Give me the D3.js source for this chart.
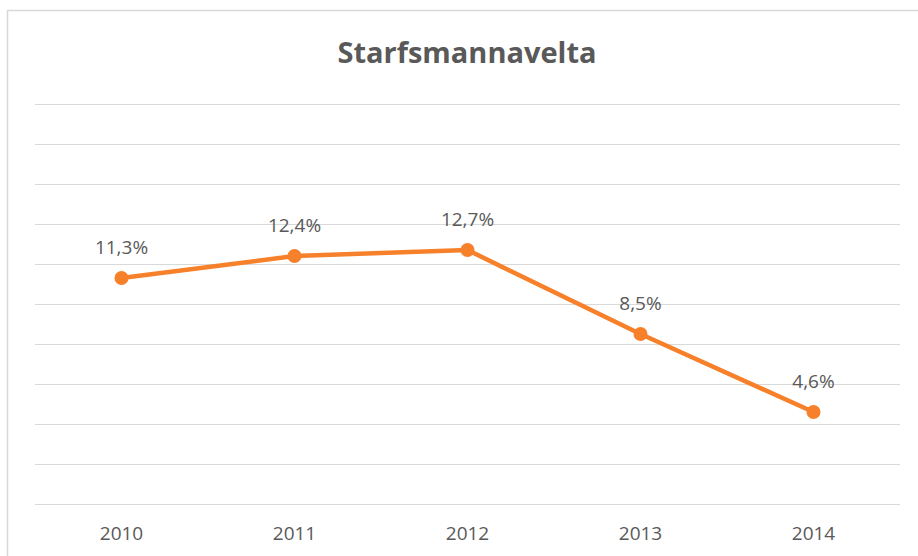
<!DOCTYPE html>
<html>
<head>
<meta charset="utf-8">
<script src="https://cdn.jsdelivr.net/npm/d3@7"></script>
<style>
  html, body { margin: 0; padding: 0; background: #fff; }
  svg { display: block; }
</style>
</head>
<body>
<svg id="chart"></svg>
<script>
// data
const years = ["2010", "2011", "2012", "2013", "2014"];
const turnover = [11.3, 12.4, 12.7, 8.5, 4.6];
const labels = ["11,3%", "12,4%", "12,7%", "8,5%", "4,6%"];
const yTicks = [0, 2, 4, 6, 8, 10, 12, 14, 16, 18, 20];

const width = 918, height = 556;
const font = "'Open Sans', 'Noto Sans', sans-serif";

const svg = d3.select("#chart")
    .attr("width", width)
    .attr("height", height);

// chart frame
svg.append("rect")
    .attr("x", 7.5)
    .attr("y", 10.5)
    .attr("width", width)
    .attr("height", height)
    .attr("fill", "#fff")
    .attr("stroke", "#d9d9d9")
    .attr("stroke-width", 1.5);

const xScale = d3.scaleBand()
    .domain(years)
    .range([35, 900]);

const yScale = d3.scaleLinear()
    .domain([0, 20])
    .range([504, 104]);

// gridlines
svg.append("g")
    .selectAll("line")
    .data(yTicks)
    .enter().append("line")
    .attr("x1", 35)
    .attr("x2", 900)
    .attr("y1", d => yScale(d) + 0.5)
    .attr("y2", d => yScale(d) + 0.5)
    .attr("stroke", "#d9d9d9")
    .attr("stroke-width", 1.2);

// x axis labels (no line, no ticks)
const xAxis = d3.axisBottom(xScale).tickSize(0).tickPadding(23);
const xg = svg.append("g")
    .attr("transform", `translate(0, ${yScale(0)})`)
    .call(xAxis);
xg.select(".domain").remove();
xg.selectAll("text")
    .attr("font-family", font)
    .attr("font-size", "19px")
    .attr("fill", "#595959");

// title
svg.append("text")
    .attr("x", 467)
    .attr("y", 63)
    .attr("text-anchor", "middle")
    .attr("font-family", font)
    .attr("font-size", "29px")
    .attr("font-weight", "bold")
    .attr("fill", "#595959")
    .text("Starfsmannavelta");

const cx = (d, i) => xScale(years[i]) + xScale.bandwidth() / 2;

const line = d3.line()
    .x((d, i) => cx(d, i))
    .y(d => yScale(d));

svg.append("path")
    .datum(turnover)
    .attr("d", line)
    .attr("fill", "none")
    .attr("stroke", "#f7812a")
    .attr("stroke-width", 4.5)
    .attr("stroke-linejoin", "round");

svg.append("g")
    .selectAll("circle")
    .data(turnover)
    .enter().append("circle")
    .attr("cx", cx)
    .attr("cy", d => yScale(d))
    .attr("r", 7)
    .attr("fill", "#f7812a");

// data labels
svg.append("g")
    .selectAll("text")
    .data(turnover)
    .enter().append("text")
    .attr("x", cx)
    .attr("y", d => yScale(d) - 24)
    .attr("text-anchor", "middle")
    .attr("font-family", font)
    .attr("font-size", "19px")
    .attr("fill", "#595959")
    .text((d, i) => labels[i]);
</script>
</body>
</html>
